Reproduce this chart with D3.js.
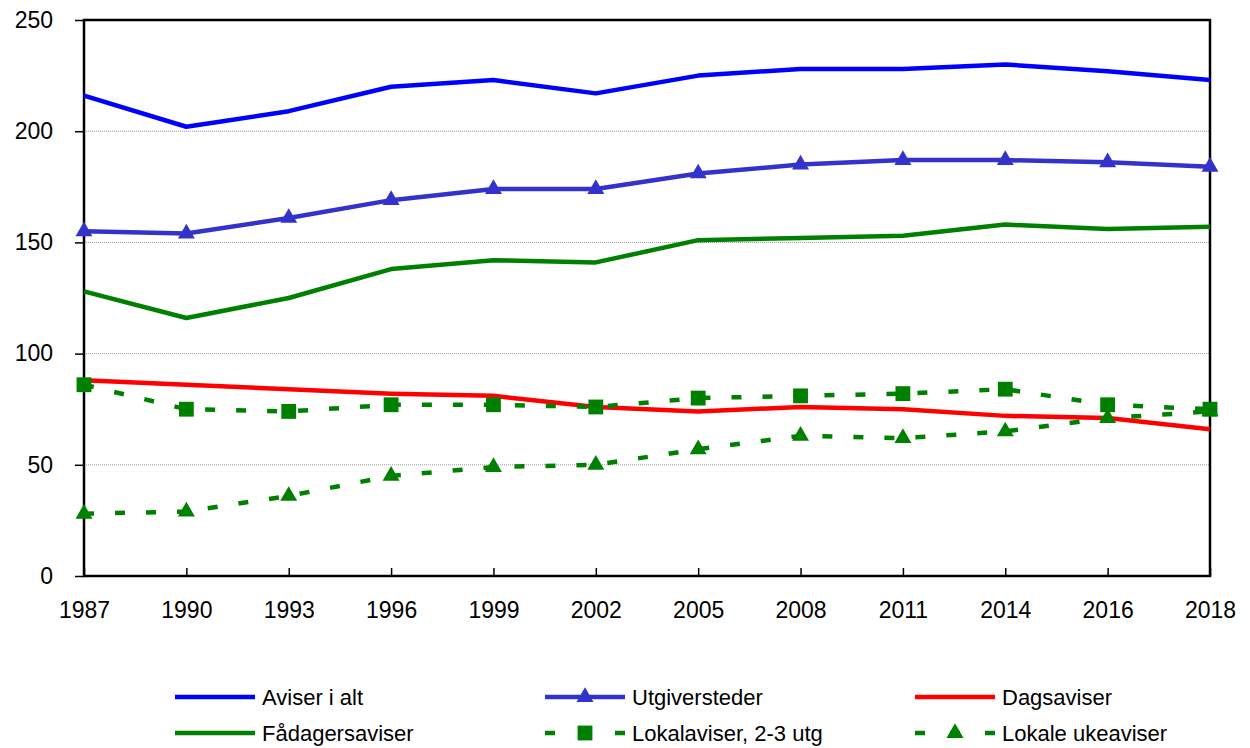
<!DOCTYPE html>
<html>
<head>
<meta charset="utf-8">
<title>Aviser 1987-2018</title>
<style>
  body { margin: 0; background: #fff; }
  svg text { font-family: Arial, "Liberation Sans", sans-serif; fill: #000; }
  .grid line { stroke: #999; stroke-width: 1; stroke-dasharray: 1,1; }
</style>
<script src="https://d3js.org/d3.v7.min.js"></script>
</head>
<body>
<svg id="chart" width="1250" height="748"></svg>
<script>
// data
var years = ["1987","1990","1993","1996","1999","2002","2005","2008","2011","2014","2016","2018"];
var aviserIAlt     = [216, 202, 209, 220, 223, 217, 225, 228, 228, 230, 227, 223];
var utgiversteder  = [155, 154, 161, 169, 174, 174, 181, 185, 187, 187, 186, 184];
var dagsaviser     = [88, 86, 84, 82, 81, 76, 74, 76, 75, 72, 71, 66];
var fadagersaviser = [128, 116, 125, 138, 142, 141, 151, 152, 153, 158, 156, 157];
var lokalaviser    = [86, 75, 74, 77, 77, 76, 80, 81, 82, 84, 77, 75];
var ukeaviser      = [28, 29, 36, 45, 49, 50, 57, 63, 62, 65, 71, 74];
var yTicks = [0, 50, 100, 150, 200, 250];

var series = [
  {name: "Aviser i alt", values: aviserIAlt, color: "#0000ff", dash: null, marker: null},
  {name: "Utgiversteder", values: utgiversteder, color: "#3333cc", dash: null, marker: "triangle"},
  {name: "Dagsaviser", values: dagsaviser, color: "#ff0000", dash: null, marker: null},
  {name: "Fådagersaviser", values: fadagersaviser, color: "#008000", dash: null, marker: null},
  {name: "Lokalaviser, 2-3 utg", values: lokalaviser, color: "#008000", dash: "10,21", marker: "square"},
  {name: "Lokale ukeaviser", values: ukeaviser, color: "#008000", dash: "10,21", marker: "triangle"}
];

var plot = {x0: 84, x1: 1210, y0: 20, y1: 576};
var svg = d3.select("#chart");

var x = d3.scalePoint().domain(years).range([plot.x0, plot.x1]);
var y = d3.scaleLinear().domain([0, 250]).range([plot.y1, plot.y0]);

// gridlines
svg.append("g").attr("class", "grid")
  .selectAll("line").data(yTicks.slice(1, -1)).join("line")
  .attr("x1", plot.x0).attr("x2", plot.x1)
  .attr("y1", d => y(d)).attr("y2", d => y(d));

// axes
var yAxis = svg.append("g").attr("transform", "translate(" + plot.x0 + ",0)")
  .call(d3.axisLeft(y).tickValues(yTicks).tickSize(9).tickPadding(22));
var xAxis = svg.append("g").attr("transform", "translate(0," + plot.y1 + ")")
  .call(d3.axisBottom(x).tickSizeInner(-8).tickSizeOuter(0).tickPadding(26));
[yAxis, xAxis].forEach(function(a) {
  a.select(".domain").remove();
  a.selectAll("line").attr("stroke", "#000").attr("stroke-width", 1.5);
  a.selectAll("text").attr("font-size", 23).attr("fill", "#000")
    .style("font-family", "Arial, 'Liberation Sans', sans-serif");
});

// frame
svg.append("rect")
  .attr("x", plot.x0).attr("y", plot.y0)
  .attr("width", plot.x1 - plot.x0).attr("height", plot.y1 - plot.y0)
  .attr("fill", "none").attr("stroke", "#000").attr("stroke-width", 2.5);

var line = d3.line().x((d, i) => x(years[i])).y(d => y(d));

function marker(sel, type, color) {
  var sym = type == "square" ? d3.symbolSquare : d3.symbolTriangle;
  var size = type == "square" ? 220 : 125;
  return sel.append("path").attr("d", d3.symbol(sym, size)()).attr("fill", color);
}

series.forEach(function(s) {
  var g = svg.append("g");
  g.append("path").datum(s.values)
    .attr("d", line)
    .attr("fill", "none")
    .attr("stroke", s.color)
    .attr("stroke-width", 4.5)
    .attr("stroke-linejoin", "round")
    .attr("stroke-dasharray", s.dash);
  if (s.marker) {
    s.values.forEach(function(v, i) {
      marker(g, s.marker, s.color)
        .attr("transform", "translate(" + x(years[i]) + "," + y(v) + ")");
    });
  }
});

// legend
var legX = [262, 632, 1002], legY = [697, 733];
series.forEach(function(s, i) {
  var tx = legX[i % 3], ly = legY[Math.floor(i / 3)];
  var g = svg.append("g");
  g.append("line")
    .attr("x1", tx - 87).attr("x2", tx - 7)
    .attr("y1", ly).attr("y2", ly)
    .attr("stroke", s.color).attr("stroke-width", 4.5)
    .attr("stroke-dasharray", s.dash ? "10,25" : null);
  if (s.marker) marker(g, s.marker, s.color).attr("transform", "translate(" + (tx - 47) + "," + ly + ")");
  g.append("text").attr("x", tx).attr("y", ly + 8)
    .attr("font-size", 22).text(s.name);
});
</script>
</body>
</html>
